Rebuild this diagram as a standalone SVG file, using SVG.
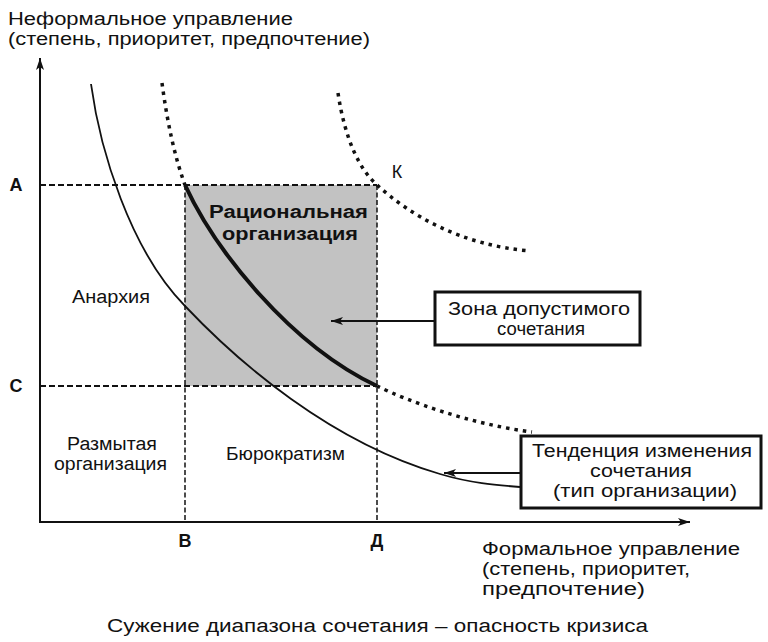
<svg xmlns="http://www.w3.org/2000/svg" width="768" height="642" viewBox="0 0 768 642">
<defs>
<marker id="ah" viewBox="0 0 12 10" refX="12" refY="5" markerWidth="12" markerHeight="10" markerUnits="userSpaceOnUse" orient="auto">
<path d="M0,1 L12,5 L0,9 L3,5 Z" fill="#111"/>
</marker>
</defs>
<style>
text{font-family:"Liberation Sans",Arial,sans-serif;font-size:18px;fill:#111}
.t{font-size:17.5px}
.b{font-weight:bold}
.m{text-anchor:middle}
.axis{stroke:#111;stroke-width:2;fill:none}
.hdash{stroke:#111;stroke-width:2;stroke-dasharray:6 3;fill:none}
.vdash{stroke:#111;stroke-width:1.5;stroke-dasharray:5 2.5;fill:none}
.dot{stroke:#111;stroke-width:3.5;stroke-dasharray:3.5 5;fill:none}
.thin{stroke:#111;stroke-width:1.8;fill:none}
.thick{stroke:#111;stroke-width:4;fill:none}
.box{fill:#fff;stroke:#111;stroke-width:3}
.conn{stroke:#111;stroke-width:2;fill:none}
</style>
<rect x="0" y="0" width="768" height="642" fill="#fff"/>

<g id="title">
<text class="t" x="8" y="25" textLength="285" lengthAdjust="spacingAndGlyphs">Неформальное управление</text>
<text class="t" x="8" y="45" textLength="362" lengthAdjust="spacingAndGlyphs">(степень, приоритет, предпочтение)</text>
</g>

<g id="zone-rect">
<rect x="185" y="185" width="192" height="201" fill="#c2c2c2"/>
</g>

<g id="grid">
<line class="hdash" x1="40" y1="185" x2="377" y2="185"/>
<line class="hdash" x1="40" y1="386" x2="377" y2="386"/>
<line class="vdash" x1="185" y1="185" x2="185" y2="522"/>
<line class="vdash" x1="377" y1="185" x2="377" y2="522"/>
</g>

<g id="axes">
<line class="axis" x1="40" y1="523" x2="40" y2="58" marker-end="url(#ah)"/>
<line class="axis" x1="39" y1="522" x2="690" y2="522" marker-end="url(#ah)"/>
</g>

<g id="curves">
<path class="thin" d="M91,84 C100,150 130,250 185,306 C238,362 330,442 440,474 C470,483 495,485 520,487"/>
<path class="dot" d="M162,83 C167,120 174,155 185,185"/>
<path class="thick" d="M185,185 C215,250 290,345 377,386"/>
<path class="dot" d="M377,386 C410,402 470,424 532,432"/>
<path class="dot" d="M338,93 C345,140 360,170 377,185 C410,215 460,245 530,251"/>
</g>

<g id="axis-labels">
<text class="b m" x="16" y="191">А</text>
<text class="b m" x="16" y="392">С</text>
<text class="b m" x="185" y="547">В</text>
<text class="b m" x="377" y="547">Д</text>
<text class="m" x="397" y="178">К</text>
</g>

<g id="rational">
<text class="b m" x="288.5" y="218" textLength="159" lengthAdjust="spacingAndGlyphs">Рациональная</text>
<text class="b m" x="290" y="240" textLength="136" lengthAdjust="spacingAndGlyphs">организация</text>
</g>

<g id="anarchy">
<text class="m" x="111" y="303" textLength="78" lengthAdjust="spacingAndGlyphs">Анархия</text>
</g>

<g id="blurred">
<text class="m" x="112" y="450" textLength="90" lengthAdjust="spacingAndGlyphs">Размытая</text>
<text class="m" x="110.5" y="470" textLength="113" lengthAdjust="spacingAndGlyphs">организация</text>
</g>

<g id="bureaucracy">
<text class="m" x="285.5" y="460" textLength="119" lengthAdjust="spacingAndGlyphs">Бюрократизм</text>
</g>

<g id="zone-box">
<rect class="box" x="435" y="292" width="205" height="53"/>
<text class="m" x="539" y="315" textLength="182" lengthAdjust="spacingAndGlyphs">Зона допустимого</text>
<text class="m" x="541" y="335" textLength="88" lengthAdjust="spacingAndGlyphs">сочетания</text>
</g>

<g id="trend-box">
<rect class="box" x="521" y="436" width="240" height="72"/>
<text class="m" x="642" y="457" textLength="220" lengthAdjust="spacingAndGlyphs">Тенденция изменения</text>
<text class="m" x="641" y="477" textLength="102" lengthAdjust="spacingAndGlyphs">сочетания</text>
<text class="m" x="645" y="497" textLength="184" lengthAdjust="spacingAndGlyphs">(тип организации)</text>
</g>

<g id="x-label">
<text x="482" y="555" textLength="258" lengthAdjust="spacingAndGlyphs">Формальное управление</text>
<text x="482" y="575" textLength="208" lengthAdjust="spacingAndGlyphs">(степень, приоритет,</text>
<text x="482" y="595" textLength="163" lengthAdjust="spacingAndGlyphs">предпочтение)</text>
</g>

<g id="caption">
<text x="107" y="632" textLength="541" lengthAdjust="spacingAndGlyphs">Сужение диапазона сочетания – опасность кризиса</text>
</g>

<g id="connectors">
<line class="conn" x1="435" y1="321" x2="331" y2="321" marker-end="url(#ah)"/>
<line class="conn" x1="521" y1="473" x2="444" y2="473" marker-end="url(#ah)"/>
</g>
</svg>
